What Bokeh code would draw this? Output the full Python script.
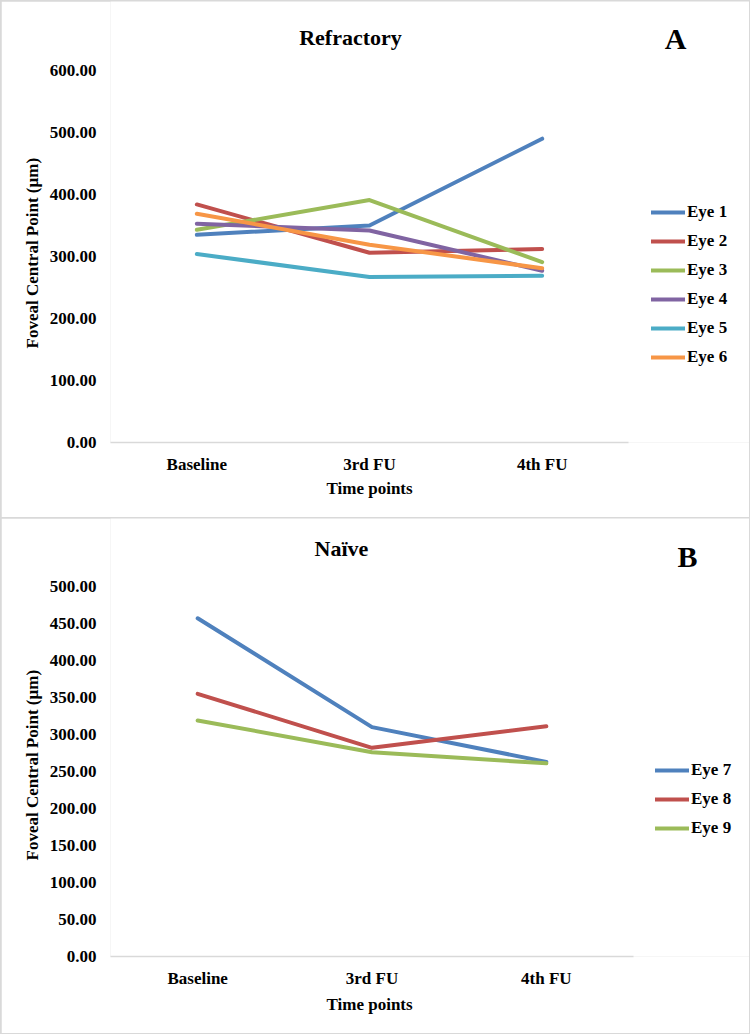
from bokeh.plotting import figure
from bokeh.models import (Range1d, FixedTicker, NumeralTickFormatter, Legend,
                          LegendItem, Label, Title)
from bokeh.layouts import column
from bokeh.embed import file_html
from bokeh.resources import INLINE

# Time points on the x axis
time_points = ["Baseline", "3rd FU", "4th FU"]

# Foveal central point thickness (µm), refractory group
refractory_eyes = ["Eye 1", "Eye 2", "Eye 3", "Eye 4", "Eye 5", "Eye 6"]
eye1 = [335, 350, 490]
eye2 = [384, 306, 312]
eye3 = [343, 391, 291]
eye4 = [353, 342, 277]
eye5 = [304, 267, 269]
eye6 = [369, 319, 281]
refractory_values = [eye1, eye2, eye3, eye4, eye5, eye6]
refractory_ticks = [0, 100, 200, 300, 400, 500, 600]

# Foveal central point thickness (µm), naive group
naive_eyes = ["Eye 7", "Eye 8", "Eye 9"]
eye7 = [457, 310, 263]
eye8 = [355, 282, 311]
eye9 = [319, 276, 261]
naive_values = [eye7, eye8, eye9]
naive_ticks = [0, 50, 100, 150, 200, 250, 300, 350, 400, 450, 500]

palette = ["#4F81BD", "#C0504D", "#9BBB59", "#8064A2", "#4BACC6", "#F79646"]

FONT = "Liberation Serif"
WIDTH = 748
LEFT = 109          # room for the value axis


def build(title, letter, names, values, ticks, height, bottom_px, plot_w, plot_h,
          title_xy, letter_xy, legend_xy, ylabel_offset, xlabel_offset, xlabel_standoff):
    """plot_w / plot_h: pixel size of the area spanned by the axes.  The frame
    itself reaches the top and right edges so the headings and legend fit in it."""
    ymax = ticks[-1]
    n = len(time_points)
    xpos = [i + 0.5 for i in range(n)]
    frame_w = WIDTH - LEFT
    frame_h = height - bottom_px
    x_end = n * frame_w / plot_w
    y_end = ymax * frame_h / plot_h

    p = figure(width=WIDTH, height=height, output_backend="svg",
               toolbar_location=None,
               x_range=Range1d(0, x_end), y_range=Range1d(0, y_end),
               min_border_left=LEFT, min_border_right=0, min_border_top=0,
               min_border_bottom=bottom_px)
    p.outline_line_color = None
    p.xgrid.visible = False
    p.ygrid.visible = False
    p.background_fill_color = "white"
    p.border_fill_color = "white"

    items = []
    for name, vals, col in zip(names, values, palette):
        r = p.line(xpos, vals, line_width=4, color=col,
                   line_cap="round", line_join="round")
        items.append(LegendItem(label=name, renderers=[r]))

    # axes
    for ax in (p.xaxis[0], p.yaxis[0]):
        ax.major_tick_line_color = None
        ax.minor_tick_line_color = None
        ax.major_label_text_font = FONT
        ax.major_label_text_font_style = "bold"
        ax.major_label_text_font_size = "17px"
        ax.major_label_text_color = "black"
    p.xaxis.ticker = FixedTicker(ticks=xpos)
    p.xaxis.major_label_overrides = {x: t for x, t in zip(xpos, time_points)}
    p.xaxis.bounds = (0, n)
    p.xaxis.axis_line_color = "#d9d9d9"
    p.xaxis.axis_line_width = 1.5
    p.xaxis.major_label_standoff = 6
    p.yaxis.axis_line_color = None
    p.yaxis.ticker = FixedTicker(ticks=ticks)
    p.yaxis.bounds = (0, ymax)
    p.yaxis.formatter = NumeralTickFormatter(format="0.00")
    p.yaxis.major_label_standoff = 8

    text_kw = dict(text_font=FONT, text_font_style="bold", text_color="black",
                   text_font_size="17px")
    p.add_layout(Title(text="Foveal Central Point (µm)", align="left",
                       offset=ylabel_offset, standoff=10,
                       vertical_align="bottom", **text_kw), "left")
    p.add_layout(Title(text="Time points", align="left", offset=xlabel_offset,
                       standoff=xlabel_standoff, vertical_align="top",
                       **text_kw), "below")

    # headings, placed in pixel terms of the plotted area
    def to_data(px, py):
        return px / plot_w * n, (plot_h - py) / plot_h * ymax

    tx, ty = to_data(*title_xy)
    p.add_layout(Label(x=tx, y=ty, text=title, text_font=FONT,
                       text_font_style="bold", text_font_size="22px",
                       text_color="black", text_align="center",
                       text_baseline="middle"))
    lx, ly = to_data(*letter_xy)
    p.add_layout(Label(x=lx, y=ly, text=letter, text_font=FONT,
                       text_font_style="bold", text_font_size="30px",
                       text_color="black", text_align="center",
                       text_baseline="middle"))

    lg = Legend(items=items, location=legend_xy,
                label_text_font=FONT, label_text_font_style="bold",
                label_text_font_size="17px", label_text_color="black",
                label_standoff=2, glyph_width=34, glyph_height=20,
                label_height=20, spacing=9, padding=0, margin=0,
                border_line_color=None, background_fill_alpha=0)
    p.add_layout(lg, "center")
    return p


# positions below are pixels relative to the top-left corner of the axes area
p1 = build("Refractory", "A", refractory_eyes, refractory_values, refractory_ticks,
           516, 75, 518, 372, (240, -33.5), (565, -32), (541, 75), 94, 216, 4)
p2 = build("Naïve", "B", naive_eyes, naive_values, naive_ticks,
           515, 77, 523, 370, (231, -38.5), (577, -30), (545, 118), 96, 216, 8)

layout = column(p1, p2, spacing=1,
                styles={"background-color": "#d9d9d9", "padding": "1px"})

open("out.html", "w").write(file_html(layout, INLINE))
